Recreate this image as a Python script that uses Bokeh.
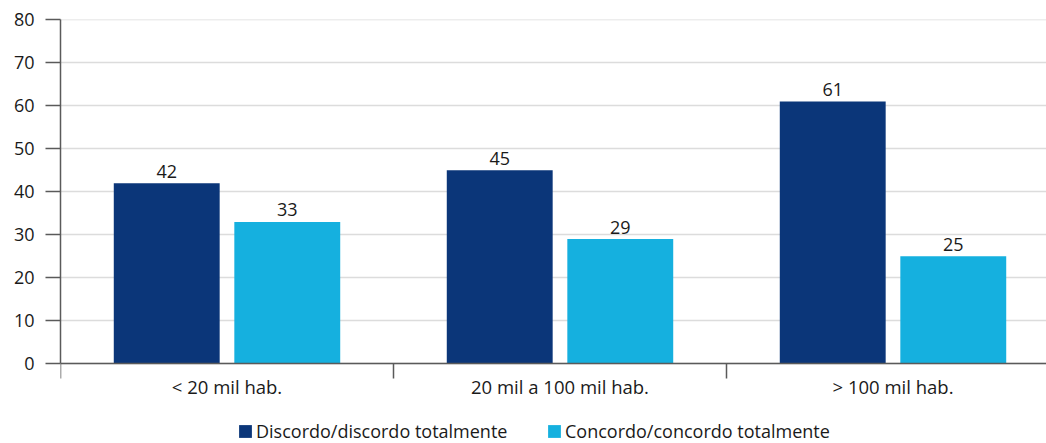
from bokeh.plotting import figure
from bokeh.models import (Range1d, FixedTicker, Legend, LegendItem, ColumnDataSource)
from bokeh.core.properties import value
from bokeh.embed import file_html
from bokeh.resources import INLINE

categories = ["< 20 mil hab.", "20 mil a 100 mil hab.", "> 100 mil hab."]
discordo = [42, 45, 61]
concordo = [33, 29, 25]
series_names = ["Discordo/discordo totalmente", "Concordo/concordo totalmente"]
y_ticks = [0, 10, 20, 30, 40, 50, 60, 70, 80]

DARK = "#0b3679"
LIGHT = "#15b0df"
TXT = "#1a1a1a"
FONT = "Open Sans"

offset = 0.181
bar_w = 0.318
centers = [i + 0.5 for i in range(len(categories))]

p = figure(width=1046, height=443, output_backend="svg", toolbar_location=None,
           x_range=Range1d(0, (1046 - 60) / 333), y_range=Range1d(-18.53, 80.07),
           min_border_left=60, min_border_right=0, min_border_top=19,
           min_border_bottom=0)
p.outline_line_color = None
p.background_fill_color = "white"
p.border_fill_color = "white"

src_d = ColumnDataSource(dict(x=[c - offset for c in centers], top=discordo,
                              lab=[str(v) for v in discordo]))
src_c = ColumnDataSource(dict(x=[c + offset for c in centers], top=concordo,
                              lab=[str(v) for v in concordo]))

r1 = p.vbar(x="x", top="top", bottom=0, width=bar_w, source=src_d, fill_color=DARK, line_color=None)
r2 = p.vbar(x="x", top="top", bottom=0, width=bar_w, source=src_c, fill_color=LIGHT, line_color=None)

for src in (src_d, src_c):
    p.text(x="x", y="top", text="lab", source=src, text_align="center",
           text_baseline="alphabetic", text_font=value(FONT), text_font_size="18px",
           text_color=TXT, y_offset=-12)

# y axis
p.yaxis.ticker = FixedTicker(ticks=y_ticks)
p.yaxis.bounds = (0, 80)
p.yaxis.major_tick_out = 15
p.yaxis.major_tick_in = 0
p.yaxis.minor_tick_out = 0
p.yaxis.minor_tick_in = 0
p.yaxis.axis_line_color = "#5a5a5a"
p.yaxis.axis_line_width = 1.5
p.yaxis.major_tick_line_color = "#5a5a5a"
p.yaxis.major_tick_line_width = 1.5
p.yaxis.major_label_standoff = 11
p.yaxis.major_label_text_font = FONT
p.yaxis.major_label_text_font_size = "18px"
p.yaxis.major_label_text_color = TXT

# x axis, drawn at y = 0
p.xaxis.fixed_location = 0
p.xaxis.ticker = FixedTicker(ticks=centers, minor_ticks=[0, 1, 2, 3])
p.xaxis.major_label_overrides = {c: lab for c, lab in zip(centers, categories)}
p.xaxis.major_tick_out = 0
p.xaxis.major_tick_in = 0
p.xaxis.minor_tick_out = 15
p.xaxis.minor_tick_in = 0
p.xaxis.minor_tick_line_color = "#5a5a5a"
p.xaxis.minor_tick_line_width = 1.5
p.xaxis.axis_line_color = "#5a5a5a"
p.xaxis.axis_line_width = 1.5
p.xaxis.major_label_standoff = -5
p.xaxis.major_label_text_font = FONT
p.xaxis.major_label_text_font_size = "18.5px"
p.xaxis.major_label_text_color = TXT

p.xgrid.grid_line_color = None
p.ygrid.ticker = FixedTicker(ticks=y_ticks)
p.ygrid.grid_line_color = "#dcdcdc"
p.ygrid.grid_line_width = 1.5

for r, name, xloc in ((r1, series_names[0], 237 - 60), (r2, series_names[1], 546 - 60)):
    lg = Legend(items=[LegendItem(label=name, renderers=[r])], location=(xloc, 0),
                orientation="horizontal", padding=0, margin=0, spacing=0,
                glyph_width=16, glyph_height=16, label_standoff=3,
                label_text_font=FONT, label_text_font_size="18px",
                label_text_color=TXT, label_height=16,
                border_line_alpha=0, background_fill_alpha=0)
    p.add_layout(lg, "center")

open("out.html", "w").write(file_html(p, INLINE))
